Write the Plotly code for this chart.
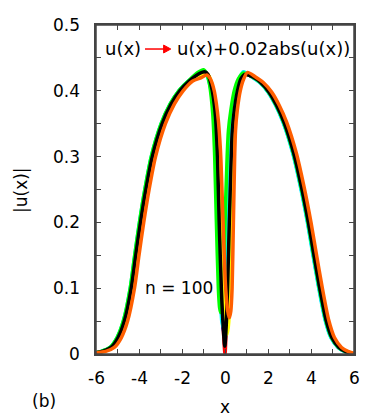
import plotly.graph_objects as go

# shared y levels on the outer flanks (left tail -> left shoulder, right shoulder -> right tail)
flank_y_left = [0.002, 0.004, 0.01, 0.025, 0.05, 0.1, 0.15, 0.2, 0.25, 0.3, 0.35, 0.38, 0.4, 0.415]
flank_y_right = [0.421, 0.413, 0.398, 0.378, 0.352, 0.305, 0.255, 0.2, 0.152, 0.105, 0.052, 0.025, 0.01, 0.004, 0.001]

# x positions of each curve
red_x = [-6.0, -5.7, -5.3, -4.97, -4.68, -4.36, -4.15, -3.93, -3.68, -3.38, -2.92, -2.5, -2.1, -1.65, -1.25,
         -0.95, -0.78, -0.62, -0.52, -0.44, -0.39, -0.35, -0.27, -0.17, -0.09, 0.0, 0.06, 0.12, 0.2, 0.29, 0.34,
         0.43, 0.58, 0.74, 0.93, 1.3, 1.65, 2.05, 2.4, 2.75, 3.2, 3.55, 3.88, 4.13, 4.38, 4.7, 4.97, 5.3, 5.6, 5.9]
blue_x = [-6.0, -5.73, -5.33, -5.0, -4.71, -4.39, -4.18, -3.96, -3.71, -3.41, -2.95, -2.53, -2.13, -1.68, -1.28,
          -0.98, -0.81, -0.65, -0.55, -0.47, -0.42, -0.38, -0.3, -0.2, -0.12, -0.05, 0.02, 0.09, 0.17, 0.26, 0.31,
          0.4, 0.55, 0.71, 0.9, 1.27, 1.62, 2.02, 2.37, 2.72, 3.17, 3.52, 3.85, 4.1, 4.35, 4.67, 4.94, 5.27, 5.57, 5.87]
magenta_x = [-6.0, -5.72, -5.32, -4.99, -4.7, -4.38, -4.17, -3.95, -3.7, -3.4, -2.94, -2.52, -2.12, -1.67, -1.27,
             -0.97, -0.82, -0.67, -0.58, -0.51, -0.46, -0.42, -0.34, -0.24, -0.18, -0.12, -0.06, 0.0, 0.08, 0.18, 0.24,
             0.34, 0.5, 0.68, 0.88, 1.27, 1.62, 2.02, 2.37, 2.72, 3.17, 3.52, 3.85, 4.1, 4.35, 4.67, 4.94, 5.27, 5.57, 5.87]
cyan_x = [-6.0, -5.75, -5.35, -5.02, -4.73, -4.41, -4.2, -3.98, -3.73, -3.43, -2.97, -2.55, -2.15, -1.7, -1.3,
          -1.0, -0.84, -0.68, -0.58, -0.5, -0.45, -0.41, -0.33, -0.23, -0.15, -0.08, -0.01, 0.06, 0.14, 0.23, 0.28,
          0.37, 0.52, 0.68, 0.86, 1.25, 1.6, 2.0, 2.35, 2.7, 3.15, 3.5, 3.83, 4.08, 4.33, 4.65, 4.92, 5.25, 5.55, 5.85]
green_x = [-6.0, -5.75, -5.35, -5.02, -4.73, -4.41, -4.2, -3.98, -3.73, -3.43, -2.97, -2.55, -2.15, -1.7, -1.3,
           -1.0, -0.85, -0.72, -0.64, -0.57, -0.52, -0.48, -0.4, -0.31, -0.25, -0.2, -0.14, -0.08, 0.0, 0.1, 0.16,
           0.27, 0.43, 0.62, 0.85, 1.28, 1.63, 2.03, 2.38, 2.73, 3.18, 3.53, 3.86, 4.11, 4.36, 4.68, 4.95, 5.28, 5.58, 5.88]
yellow_x = [-6.0, -5.62, -5.22, -4.89, -4.6, -4.28, -4.07, -3.85, -3.6, -3.3, -2.84, -2.42, -2.02, -1.57, -1.17,
            -0.9, -0.72, -0.56, -0.46, -0.37, -0.31, -0.26, -0.17, -0.06, 0.03, 0.11, 0.18, 0.24, 0.31, 0.39, 0.44,
            0.52, 0.66, 0.82, 1.0, 1.36, 1.71, 2.11, 2.46, 2.81, 3.26, 3.61, 3.94, 4.19, 4.44, 4.76, 5.03, 5.36, 5.66, 5.96]
black_x = [-6.0, -5.7, -5.3, -4.97, -4.68, -4.36, -4.15, -3.93, -3.68, -3.38, -2.92, -2.5, -2.1, -1.65, -1.25,
           -0.95, -0.78, -0.62, -0.52, -0.44, -0.39, -0.35, -0.27, -0.17, -0.09, -0.01, 0.06, 0.12, 0.2, 0.29, 0.34,
           0.43, 0.58, 0.74, 0.93, 1.3, 1.65, 2.05, 2.4, 2.75, 3.2, 3.55, 3.88, 4.13, 4.38, 4.7, 4.97, 5.3, 5.6, 5.9]
orange_x = [-6.0, -5.55, -5.15, -4.82, -4.53, -4.21, -4.0, -3.78, -3.53, -3.23, -2.77, -2.35, -1.95, -1.5, -1.1,
            -0.85, -0.68, -0.5, -0.4, -0.31, -0.24, -0.19, -0.09, 0.03, 0.13, 0.2, 0.27, 0.33, 0.39, 0.45, 0.49,
            0.57, 0.71, 0.87, 1.05, 1.42, 1.77, 2.17, 2.52, 2.87, 3.32, 3.67, 4.0, 4.25, 4.5, 4.82, 5.09, 5.42, 5.72, 6.0]

# core |u| values (left shoulder, peak, hole, right peak) of each curve
red_core = [0.425, 0.429, 0.424, 0.405, 0.385, 0.36, 0.33, 0.3, 0.2, 0.1, 0.045, 0.0, 0.045, 0.1, 0.2, 0.3, 0.34, 0.37, 0.4, 0.418, 0.425]
blue_core = [0.424, 0.428, 0.423, 0.405, 0.385, 0.36, 0.33, 0.3, 0.2, 0.1, 0.05, 0.03, 0.05, 0.1, 0.2, 0.3, 0.34, 0.37, 0.4, 0.419, 0.428]
magenta_core = [0.426, 0.43, 0.425, 0.407, 0.386, 0.36, 0.33, 0.3, 0.2, 0.1, 0.065, 0.053, 0.065, 0.1, 0.2, 0.3, 0.34, 0.37, 0.4, 0.418, 0.426]
cyan_core = [0.424, 0.428, 0.423, 0.405, 0.385, 0.36, 0.33, 0.3, 0.2, 0.1, 0.05, 0.04, 0.05, 0.1, 0.2, 0.3, 0.34, 0.37, 0.4, 0.42, 0.429]
green_core = [0.427, 0.432, 0.426, 0.41, 0.39, 0.365, 0.335, 0.3, 0.2, 0.1, 0.07, 0.063, 0.07, 0.1, 0.2, 0.3, 0.34, 0.37, 0.4, 0.418, 0.427]
yellow_core = [0.423, 0.427, 0.421, 0.403, 0.383, 0.358, 0.33, 0.3, 0.2, 0.1, 0.05, 0.03, 0.05, 0.1, 0.2, 0.3, 0.34, 0.37, 0.4, 0.418, 0.426]
black_core = [0.425, 0.429, 0.424, 0.405, 0.385, 0.36, 0.33, 0.3, 0.2, 0.1, 0.045, 0.012, 0.045, 0.1, 0.2, 0.3, 0.34, 0.37, 0.4, 0.418, 0.425]
orange_core = [0.42, 0.424, 0.418, 0.4, 0.38, 0.355, 0.325, 0.295, 0.2, 0.1, 0.065, 0.055, 0.065, 0.1, 0.2, 0.3, 0.34, 0.37, 0.4, 0.418, 0.428]

# ticks: every unit / every 0.05, labels on the major ones
x_tick_vals = [-6, -5, -4, -3, -2, -1, 0, 1, 2, 3, 4, 5, 6]
x_label_vals = [-6, -4, -2, 0, 2, 4, 6]
x_label_text = ["-6", "-4", "-2", "0", "2", "4", "6"]
y_tick_vals = [0, 0.05, 0.1, 0.15, 0.2, 0.25, 0.3, 0.35, 0.4, 0.45, 0.5]
y_label_vals = [0, 0.1, 0.2, 0.3, 0.4, 0.5]
y_label_text = ["0", "0.1", "0.2", "0.3", "0.4", "0.5"]

curves = [
    (red_x, red_core, "#ff0000"),
    (blue_x, blue_core, "#0000ff"),
    (magenta_x, magenta_core, "#ff00ff"),
    (cyan_x, cyan_core, "#00ffff"),
    (green_x, green_core, "#00ff00"),
    (yellow_x, yellow_core, "#ffff00"),
    (black_x, black_core, "#000000"),
    (orange_x, orange_core, "#ff5f00"),
]

FONT = "DejaVu Sans"
tick_font = dict(family=FONT, size=17, color="black")

fig = go.Figure()
for xs, core, col in curves:
    ys = flank_y_left + core + flank_y_right
    fig.add_trace(go.Scatter(x=xs, y=ys, mode="lines",
                             line=dict(color=col, width=3.5, shape="spline", smoothing=0.7),
                             showlegend=False, hoverinfo="skip"))

axis_col = "#444444"
fig.update_xaxes(range=[-6, 6], tickmode="array", tickvals=x_tick_vals, showticklabels=False,
                 ticks="inside", ticklen=5, tickcolor=axis_col, tickwidth=1,
                 showline=True, linecolor=axis_col, linewidth=1.5, mirror="ticks",
                 showgrid=False, zeroline=False)
fig.update_yaxes(range=[0, 0.5], tickmode="array", tickvals=y_tick_vals, showticklabels=False,
                 ticks="inside", ticklen=5, tickcolor=axis_col, tickwidth=1,
                 showline=True, linecolor=axis_col, linewidth=1.5, mirror="ticks",
                 showgrid=False, zeroline=False)

# frame around the plot area
fig.add_shape(type="rect", xref="paper", yref="paper", x0=0, y0=0, x1=1, y1=1,
              line=dict(color=axis_col, width=1.5), layer="above")

# red arrow of the key, drawn as a line plus a filled head
fig.add_shape(type="line", xref="paper", yref="paper", x0=0.19, y0=0.927, x1=0.27, y1=0.927,
              line=dict(color="#ff0000", width=1.5))
fig.add_shape(type="path", xref="paper", yref="paper",
              path="M 0.262 0.915 L 0.29 0.927 L 0.262 0.939 Z",
              fillcolor="#ff0000", line=dict(color="#ff0000", width=1))

# tick labels, placed off the axes like the reference
for v, lab in zip(x_label_vals, x_label_text):
    fig.add_annotation(x=v, y=(354 - 377.5) / 329, xref="x", yref="paper", text=lab, showarrow=False,
                       xanchor="center", yanchor="middle", font=tick_font)
for v, lab in zip(y_label_vals, y_label_text):
    fig.add_annotation(x=(82 - 96) / 258, y=v, xref="paper", yref="y", text=lab, showarrow=False,
                       xanchor="right", yanchor="middle", font=tick_font)

txt = dict(family=FONT, size=18, color="black")
fig.add_annotation(x=0.027, y=0.93, xref="paper", yref="paper", text="u(x)", showarrow=False,
                   xanchor="left", yanchor="middle", font=txt)
fig.add_annotation(x=0.306, y=0.93, xref="paper", yref="paper", text="u(x)+0.02abs(u(x))",
                   showarrow=False, xanchor="left", yanchor="middle", font=txt)
fig.add_annotation(x=-3.8, y=0.1, text="n = 100", showarrow=False, xanchor="left", yanchor="middle",
                   font=tick_font)

# axis titles and panel label placed in pixel-derived paper coordinates
fig.add_annotation(x=(21 - 96) / 258, y=(354 - 190) / 329, xref="paper", yref="paper", text="|u(x)|",
                   textangle=-90, showarrow=False, xanchor="center", yanchor="middle", font=tick_font)
fig.add_annotation(x=(225 - 96) / 258, y=(354 - 407) / 329, xref="paper", yref="paper", text="x",
                   showarrow=False, xanchor="center", yanchor="middle", font=tick_font)
fig.add_annotation(x=(44 - 96) / 258, y=(354 - 401) / 329, xref="paper", yref="paper", text="(b)",
                   showarrow=False, xanchor="center", yanchor="middle", font=tick_font)

fig.update_layout(width=390, height=419, margin=dict(l=96, r=36, t=25, b=65),
                  plot_bgcolor="white", paper_bgcolor="white")
fig.write_html("out.html", config={"displayModeBar": False},
               post_script="document.body.style.margin='0';")
